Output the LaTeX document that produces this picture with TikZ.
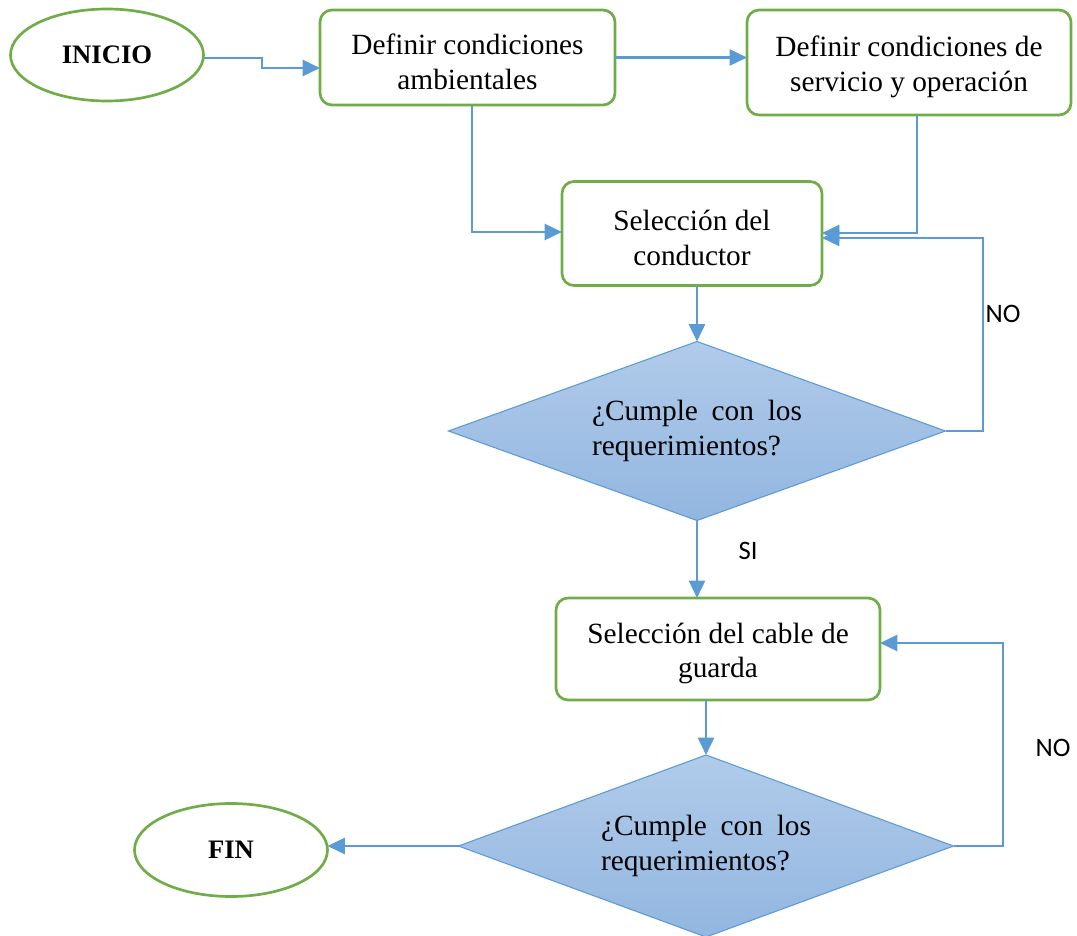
\documentclass[tikz,border=0pt]{standalone}
\usepackage{fontspec}
\setmainfont{Liberation Serif}
\newfontfamily\calib{Carlito}
\usetikzlibrary{arrows.meta,shapes.geometric,calc}
\definecolor{grn}{HTML}{70AD47}
\definecolor{blu}{HTML}{5B9BD5}
\definecolor{dtop}{HTML}{B1CBEA}
\definecolor{dbot}{HTML}{92B6E0}
\tikzset{
  stepbox/.style={draw=grn, line width=2pt, rounded corners=9pt, fill=white, align=center,
    font=\fontsize{22}{26}\selectfont, inner sep=0pt, outer sep=0pt},
  term/.style={draw=grn, line width=2pt, ellipse, fill=white,
    font=\bfseries\fontsize{20}{24}\selectfont, inner sep=0pt, outer sep=0pt},
  decision/.style={diamond, shape aspect=2.78, draw=blu, line width=0.8pt, top color=dtop, bottom color=dbot,
    minimum width=372.75pt, minimum height=134.25pt, inner sep=0pt, outer sep=0pt,
    text width=157.5pt, align=justify, font=\fontsize{22}{26}\selectfont},
  arr/.style={draw=blu, line width=1.9pt, -{Triangle[length=13pt,width=12pt]}},
  lbl/.style={font=\calib\fontsize{20}{24}\selectfont, inner sep=0pt}
}
\begin{document}
\begin{tikzpicture}[x=0.75pt,y=-0.75pt]
\useasboundingbox (0,0) rectangle (1077,935);
% nodes
\node[term, minimum width=144.75pt, minimum height=69pt] (ini) at (107,55) {INICIO};
\node[stepbox, minimum width=221.25pt, minimum height=71.25pt] (b1) at (467.5,57.5)
  {\rule{0pt}{22pt}Definir condiciones\\ambientales};
\node[stepbox, minimum width=243pt, minimum height=78.75pt] (b2) at (909,62.5)
  {\rule{0pt}{22pt}Definir condiciones de\\servicio y operación};
\node[stepbox, minimum width=195pt, minimum height=78pt] (b3) at (692,233.5)
  {\rule{0pt}{22pt}Selección del\\conductor};
\node[decision] (d1) at (697,431) {\tolerance=9999 ¿Cumple con los requerimientos?};
\node[stepbox, minimum width=243pt, minimum height=76.5pt] (b4) at (718,649)
  {\rule{0pt}{22pt}Selección del cable de\\guarda};
\node[decision, minimum width=371.25pt, minimum height=136.5pt] (d2) at (706,846)
  {\tolerance=9999 ¿Cumple con los requerimientos?};
\node[term, minimum width=144.75pt, minimum height=69.75pt] (fin) at (231,850) {FIN};
\node[lbl] (no1) at (1003,314) {NO};
\node[lbl] (si) at (748,551) {SI};
\node[lbl] (no2) at (1053,748) {NO};
% connectors
\draw[arr] ($(ini.east)+(0,3)$) -- (262,58) -- (262,68) -- (b1.west |- 0,68);
\draw[arr] (b1.east) -- (b2.west |- b1.east);
\draw[arr] (b1.south -| 472,0) -- (472,232) -- (b3.west |- 0,232);
\draw[arr] (b2.south -| 917,0) -- (917,233) -- (b3.east |- 0,233);
\draw[arr] (d1.east) -| (983,238) -- (b3.east |- 0,238);
\draw[arr] (b3.south -| d1.north) -- (d1.north);
\draw[arr] (d1.south) -- (d1.south |- b4.north);
\draw[arr] (b4.south -| d2.north) -- (d2.north);
\draw[arr] (d2.east) -| (1003,643) -- (b4.east |- 0,643);
\draw[arr] (d2.west) -- (fin.east |- d2.west);
\end{tikzpicture}
\end{document}
